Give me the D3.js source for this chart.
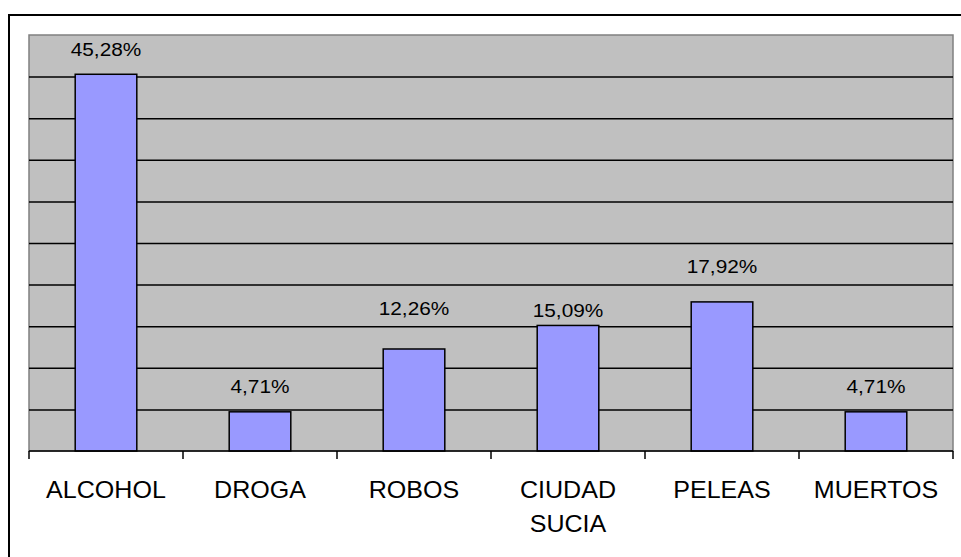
<!DOCTYPE html>
<html>
<head>
<meta charset="utf-8">
<script src="https://cdn.jsdelivr.net/npm/d3@7"></script>
<style>
  html, body { margin: 0; padding: 0; background: #fff; }
  svg { display: block; }
</style>
</head>
<body>
<script>
// Data
const categories = ["ALCOHOL", "DROGA", "ROBOS", "CIUDAD SUCIA", "PELEAS", "MUERTOS"];
const values = [45.28, 4.71, 12.26, 15.09, 17.92, 4.71];
const yTicks = [5, 10, 15, 20, 25, 30, 35, 40, 45];

// Layout (value labels sit at different heights above each bar in the original)
const width = 961, height = 557;
const plot = { left: 29, right: 953, top: 35, bottom: 451 };
const labelLift = [18, 19, 34, 8, 29, 19];

const svg = d3.select("body").append("svg")
  .attr("width", width)
  .attr("height", height)
  .attr("font-family", "'Liberation Sans', Arial, sans-serif");

svg.append("rect").attr("width", width).attr("height", height).attr("fill", "#fff");

// Outer chart border
svg.append("rect")
  .attr("x", 9).attr("y", 15)
  .attr("width", 960).attr("height", 560)
  .attr("fill", "none").attr("stroke", "#000").attr("stroke-width", 2);

const x = d3.scaleBand().domain(categories).range([plot.left, plot.right]).padding(0);
const y = d3.scaleLinear().domain([0, 50]).range([plot.bottom, plot.top]);

// Plot area
svg.append("rect")
  .attr("x", plot.left).attr("y", plot.top)
  .attr("width", plot.right - plot.left).attr("height", plot.bottom - plot.top)
  .attr("fill", "#c0c0c0").attr("stroke", "#808080").attr("stroke-width", 1.5);

// Gridlines
const grid = svg.append("g")
  .attr("transform", `translate(${plot.left},0)`)
  .call(d3.axisLeft(y).tickValues(yTicks).tickSize(-(plot.right - plot.left)).tickFormat(""));
grid.select(".domain").remove();
grid.selectAll("line").attr("stroke", "#000").attr("stroke-width", 1.5);

// Bars
const barW = x.bandwidth() * 0.4;
svg.append("g").selectAll("rect")
  .data(values)
  .join("rect")
  .attr("x", (d, i) => x(categories[i]) + (x.bandwidth() - barW) / 2)
  .attr("y", d => y(d))
  .attr("width", barW)
  .attr("height", d => y(0) - y(d))
  .attr("fill", "#9999ff")
  .attr("stroke", "#000")
  .attr("stroke-width", 1.5);

// Value labels
svg.append("g").selectAll("text")
  .data(values)
  .join("text")
  .attr("transform", (d, i) =>
    `translate(${x(categories[i]) + x.bandwidth() / 2},${y(d) - labelLift[i]}) scale(1.12,1)`)
  .attr("text-anchor", "middle")
  .attr("font-size", 18.6)
  .attr("fill", "#000")
  .text(d => d.toFixed(2).replace(".", ",") + "%");

// X axis line and boundary ticks
svg.append("line")
  .attr("x1", plot.left).attr("x2", plot.right)
  .attr("y1", plot.bottom).attr("y2", plot.bottom)
  .attr("stroke", "#000").attr("stroke-width", 1.5);

const bounds = categories.map(c => x(c)).concat([plot.right]);
svg.append("g").selectAll("line")
  .data(bounds)
  .join("line")
  .attr("x1", d => d).attr("x2", d => d)
  .attr("y1", plot.bottom).attr("y2", plot.bottom + 8)
  .attr("stroke", "#000").attr("stroke-width", 1.5);

// Category labels
const catLabels = svg.append("g").selectAll("text")
  .data(categories)
  .join("text")
  .attr("transform", d => `translate(${x(d) + x.bandwidth() / 2},498) scale(1.09,1)`)
  .attr("text-anchor", "middle")
  .attr("font-size", 23)
  .attr("fill", "#000");

catLabels.selectAll("tspan")
  .data(d => d.split(" "))
  .join("tspan")
  .attr("x", 0)
  .attr("dy", (d, i) => i === 0 ? 0 : 34)
  .text(d => d);
</script>
</body>
</html>
